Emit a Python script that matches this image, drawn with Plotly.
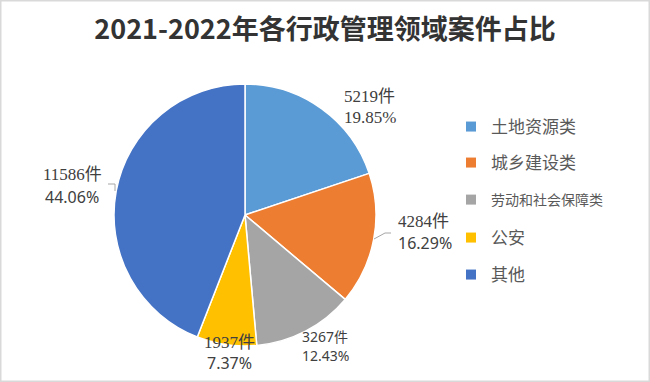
import plotly.graph_objects as go

# ---- data ----
categories = ["土地资源类", "城乡建设类", "劳动和社会保障类", "公安", "其他"]
case_counts = [5219, 4284, 3267, 1937, 11586]
colors = ["#5B9BD5", "#ED7D31", "#A5A5A5", "#FFC000", "#4472C4"]
title_text = "2021-2022年各行政管理领域案件占比"

total = sum(case_counts)
percents = [v / total * 100 for v in case_counts]

W, H = 650, 382

def px(x):
    return x / W

def py(y):
    return 1 - y / H

fig = go.Figure()

fig.add_trace(go.Pie(
    labels=categories,
    values=case_counts,
    sort=False,
    direction="clockwise",
    rotation=0,
    marker=dict(colors=colors, line=dict(color="white", width=1.5)),
    textinfo="none",
    hovertemplate="%{label}<br>%{value}件<br>%{percent}<extra></extra>",
    showlegend=False,
    domain=dict(x=[px(114), px(376)], y=[py(346), py(84)]),
))

# legend entries: one legend box per category (exact vertical placement)
legend_rows = [127, 163, 200, 238, 275]
legend_sizes = [17, 17, 14, 17, 17]
legend_layouts = {}
for i, (cat, col) in enumerate(zip(categories, colors)):
    lname = "legend" if i == 0 else f"legend{i + 1}"
    fig.add_trace(go.Scatter(
        x=[None], y=[None], mode="markers",
        marker=dict(symbol="square", size=10, color=col),
        name=cat, legend=lname, showlegend=True, hoverinfo="skip",
    ))
    legend_layouts[lname] = dict(
        x=px(451), y=py(legend_rows[i]), xanchor="left", yanchor="middle",
        font=dict(family="Noto Sans CJK SC", size=legend_sizes[i], color="#595959"),
        bgcolor="rgba(0,0,0,0)", borderwidth=0,
    )

# data labels (layout positions only; text derived from data)
label_layout = [
    # (x, y_line1, y_line2, xanchor, font1, size1, font2, size2)
    (342, 96, 117, "left", "Liberation Serif, Noto Sans CJK SC", 17, "Liberation Serif", 17),
    (396, 221, 243, "left", "Liberation Serif, Noto Sans CJK SC", 17, "Noto Sans", 16),
    (300, 336, 355, "left", "Noto Sans, Noto Sans CJK SC", 14, "Noto Sans", 14),
    (229, 342, 363, "center", "Liberation Serif, Noto Sans CJK SC", 17, "Noto Sans", 16),
    (72, 175, 197, "center", "Liberation Serif, Noto Sans CJK SC", 17, "Noto Sans", 16),
]
annotations = []
for v, p, (x, y1, y2, xa, f1, s1, f2, s2) in zip(case_counts, percents, label_layout):
    annotations.append(dict(
        x=px(x), y=py(y1), xref="paper", yref="paper", xanchor=xa, yanchor="middle",
        text=f"{v}件", showarrow=False, font=dict(family=f1, size=s1, color="#404040")))
    annotations.append(dict(
        x=px(x), y=py(y2), xref="paper", yref="paper", xanchor=xa, yanchor="middle",
        text=f"{p:.2f}%", showarrow=False, font=dict(family=f2, size=s2, color="#404040")))

shapes = [
    dict(type="rect", xref="paper", yref="paper", x0=0, y0=0, x1=1, y1=1,
         line=dict(color="#D9D9D9", width=3), fillcolor="rgba(0,0,0,0)"),
    dict(type="path", xref="paper", yref="paper",
         path=f"M {px(374)} {py(239)} L {px(385)} {py(233)} L {px(391)} {py(233)}",
         line=dict(color="#A6A6A6", width=1)),
    dict(type="path", xref="paper", yref="paper",
         path=f"M {px(108)} {py(184)} L {px(115)} {py(184)} L {px(115)} {py(191)}",
         line=dict(color="#A6A6A6", width=1)),
]

fig.update_layout(
    width=W, height=H,
    margin=dict(l=0, r=0, t=0, b=0),
    paper_bgcolor="white", plot_bgcolor="white",
    title=dict(text=title_text, x=0.5, xanchor="center", y=1 - 30 / H, yanchor="middle",
               yref="container",
               font=dict(family="Noto Sans CJK SC", size=27, color="#333333", weight="bold")),
    xaxis=dict(visible=False), yaxis=dict(visible=False),
    annotations=annotations,
    shapes=shapes,
    showlegend=True,
    **legend_layouts,
)

fig.write_html(
    "out.html",
    config={"displayModeBar": False},
    post_script="document.body.style.margin='0';document.body.style.overflow='hidden';",
)
